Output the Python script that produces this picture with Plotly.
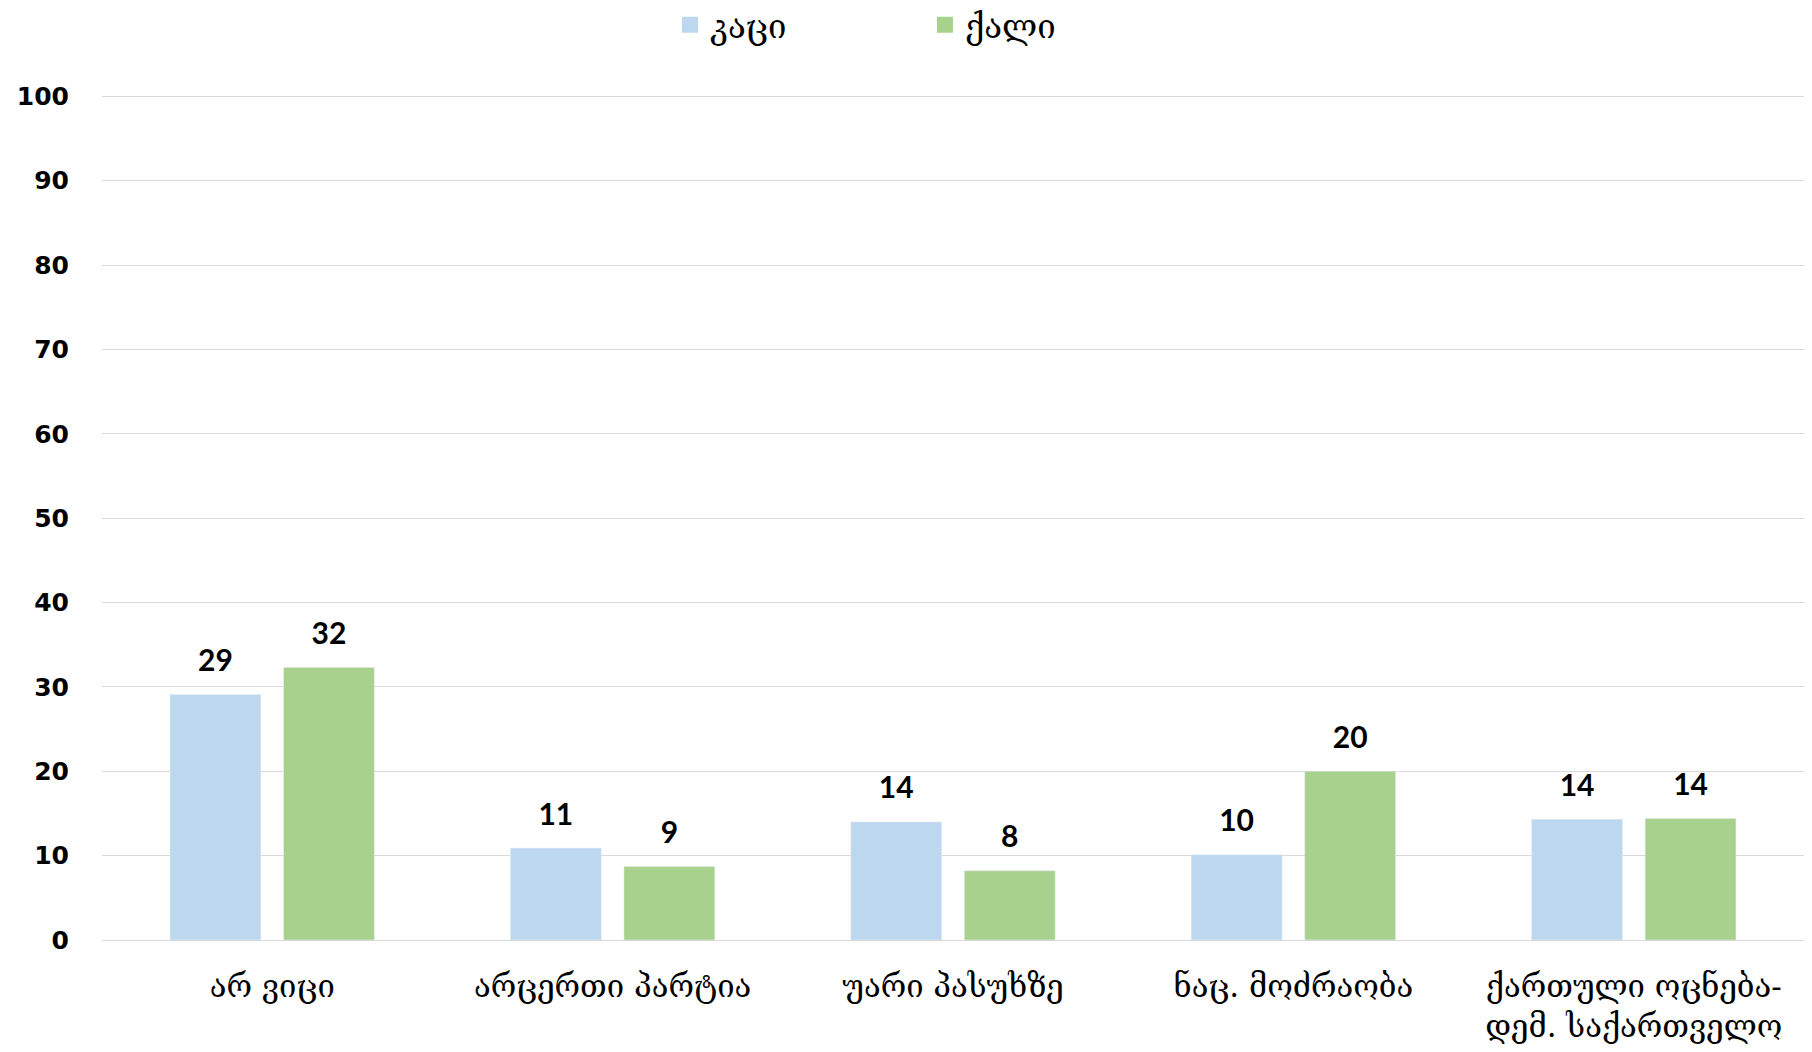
import plotly.graph_objects as go

categories = ["არ ვიცი", "არცერთი პარტია", "უარი პასუხზე", "ნაც. მოძრაობა",
              "ქართული ოცნება-<br>დემ. საქართველო"]
series_names = ["კაცი", "ქალი"]
men = [29.1, 10.9, 14.0, 10.1, 14.3]
women = [32.3, 8.7, 8.2, 20.0, 14.4]
colors = ["#BDD7EE", "#A9D18E"]
y_ticks = [0, 10, 20, 30, 40, 50, 60, 70, 80, 90, 100]

fig = go.Figure()
for name, vals, col in zip(series_names, [men, women], colors):
    fig.add_trace(go.Bar(
        x=categories, y=vals, name=name, marker_color=col, showlegend=False,
    ))
for name, vals in zip(series_names, [men, women]):
    fig.add_trace(go.Scatter(
        x=categories, y=vals, mode="markers+text", showlegend=False,
        marker=dict(size=24, opacity=0), texttemplate="%{y:.0f}",
        textposition="top center", cliponaxis=False, hoverinfo="skip",
        textfont=dict(family="Lato", size=30, color="#000000", weight="bold"),
    ))
for name, col in zip(series_names, colors):
    fig.add_trace(go.Scatter(
        x=[None], y=[None], mode="markers", name=name, xaxis="x2",
        marker=dict(symbol="square", size=16, color=col),
    ))

fig.update_layout(
    width=1796, height=1036,
    margin=dict(l=94, r=0, t=87, b=104, autoexpand=False),
    paper_bgcolor="white", plot_bgcolor="white",
    barmode="group", bargap=0.333, bargroupgap=0.2,
    scattermode="group", scattergap=0.333,
    legend=dict(orientation="h", x=0.3337, xanchor="left", y=1.083, yanchor="middle",
                font=dict(family="DejaVu Serif, DejaVu Sans", size=33, color="#000000"),
                entrywidth=210, itemsizing="trace"),
    xaxis=dict(tickfont=dict(family="DejaVu Serif, DejaVu Sans", size=31, color="#000000"),
               showgrid=False, showline=False, ticks="", ticklabelstandoff=25),
    xaxis2=dict(overlaying="x", visible=False),
    yaxis=dict(range=[0, 100.15], tickvals=y_ticks, showgrid=True, gridcolor="#D9D9D9",
               gridwidth=1, zeroline=True, zerolinecolor="#D9D9D9", zerolinewidth=1,
               tickfont=dict(family="DejaVu Sans", size=25, color="#000000", weight="bold"),
               ticklabelstandoff=32, showline=False),
)

fig.write_html("out.html")
